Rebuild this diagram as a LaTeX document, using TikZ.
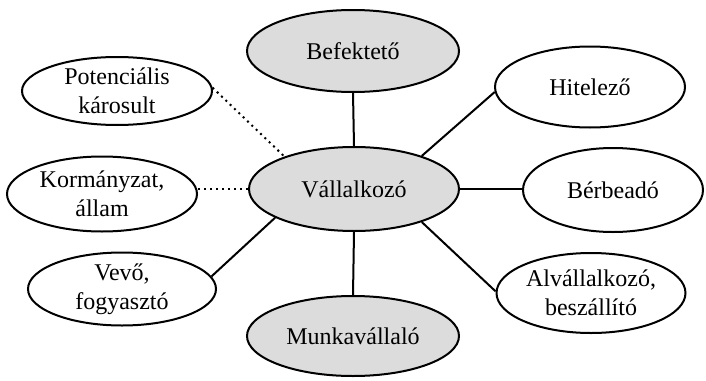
\documentclass[tikz,border=0pt]{standalone}
\usepackage{fontspec}
\setmainfont{Liberation Serif}
\usetikzlibrary{shapes.geometric}
\definecolor{nodegray}{RGB}{220,220,220}
\tikzset{
  ell/.style={ellipse, draw=black, line width=1pt, inner sep=0pt, align=center,
    font=\fontsize{12}{14.5}\selectfont},
  core/.style={ell, fill=nodegray},
  link/.style={line width=1pt},
  weak/.style={line width=1pt, dotted},
}
\begin{document}
\begin{tikzpicture}[x=0.5pt, y=-0.5pt]
\useasboundingbox (0,0) rectangle (706,380);
\node[core, minimum width=106pt, minimum height=41pt] (B) at (353,51) {Befektető};
\node[core, minimum width=105pt, minimum height=42pt] (V) at (354,189) {Vállalkozó};
\node[core, minimum width=106pt, minimum height=40pt] (M) at (353,336) {Munkavállaló};
\node[ell, minimum width=95pt, minimum height=34pt] (P) at (117,91) {Potenciális\\károsult};
\node[ell, minimum width=95pt, minimum height=37.5pt] (K) at (102,194) {Kormányzat,\\állam};
\node[ell, minimum width=94pt, minimum height=36.5pt] (Ve) at (122,289) {Vevő,\\fogyasztó};
\node[ell, minimum width=95pt, minimum height=40.5pt] (H) at (590,87) {Hitelező};
\node[ell, minimum width=90pt, minimum height=42pt] (Be) at (613,190) {Bérbeadó};
\node[ell, minimum width=94.5pt, minimum height=40pt] (A) at (591,293) {Alvállalkozó,\\beszállító};
\draw[link] (B.south) -- (V.north);
\draw[link] (V.south) -- (M.north);
\draw[weak] (P.2) -- (V.155);
\draw[weak] (V.west) -- (V.west -| K.east);
\draw[link] (Ve.8) -- (V.200);
\draw[link] (V.26) -- (H.183);
\draw[link] (V.east) -- (V.east -| Be.west);
\draw[link] (V.-26) -- (A.179);
\end{tikzpicture}
\end{document}
